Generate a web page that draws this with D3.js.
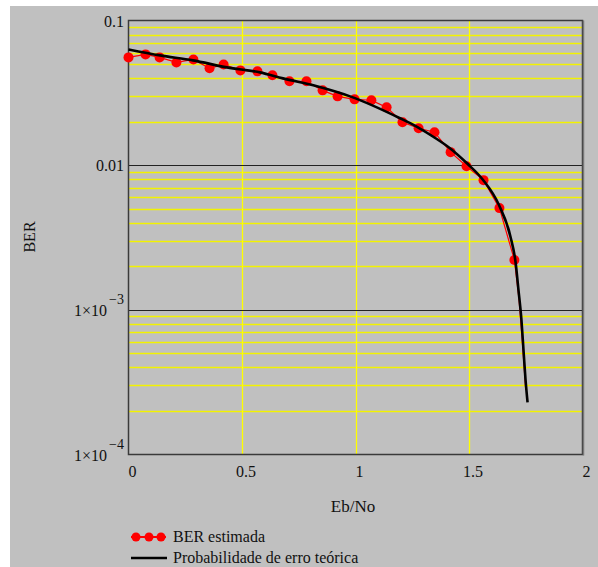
<!DOCTYPE html>
<html>
<head>
<meta charset="utf-8">
<script src="https://cdn.jsdelivr.net/npm/d3@7"></script>
<style>
  body { margin: 0; background: #fff; }
  svg { display: block; font-family: "Liberation Serif", "Times New Roman", serif; }
</style>
</head>
<body>
<div id="chart"></div>
<script>
// estimated BER points (Eb/No, BER)
var berX = [0, 0.075, 0.137, 0.211, 0.286, 0.357, 0.419, 0.493, 0.568, 0.634, 0.709, 0.784,
  0.855, 0.921, 0.996, 1.07, 1.137, 1.207, 1.278, 1.348, 1.419, 1.489, 1.564, 1.634, 1.70];
var berY = [0.0556, 0.0583, 0.0556, 0.0513, 0.0538, 0.0467, 0.0497, 0.0452, 0.0445, 0.0418, 0.038, 0.038,
  0.0329, 0.0299, 0.0285, 0.0281, 0.0251, 0.0198, 0.018, 0.0169, 0.0123, 0.00984, 0.00788, 0.00505, 0.00221];
// red connecting line continues past the last visible dot
var tailX = [1.72, 1.735, 1.75];
var tailY = [0.0012, 0.0006, 0.00028];

// theoretical error probability curve
var theoX = [0, 0.139, 0.284, 0.434, 0.579, 0.681, 0.830, 0.976, 1.196, 1.271, 1.346, 1.416, 1.491,
  1.562, 1.632, 1.683, 1.705, 1.718, 1.731, 1.740, 1.749, 1.758];
var theoY = [0.0631, 0.0574, 0.053, 0.0474, 0.0438, 0.0398, 0.0351, 0.0299, 0.0211, 0.0184, 0.0156, 0.0131, 0.0103,
  0.0079, 0.0053, 0.00319, 0.00214, 0.00137, 0.000853, 0.00053, 0.000329, 0.000229];

var xTicks = [0, 0.5, 1, 1.5, 2];
var yMajor = [0.1, 0.01, 0.001, 0.0001];
var yLabels = [["0.1"], ["0.01"], ["1×10", "−3"], ["1×10", "−4"]];
var legendNames = ["BER estimada", "Probabilidade de erro teórica"];

var W = 598, H = 567;
var svg = d3.select("#chart").append("svg").attr("width", W).attr("height", H);

// grey backdrop (white strip on the top/left edges)
svg.append("rect").attr("x", 10).attr("y", 6).attr("width", W - 10).attr("height", H - 6).attr("fill", "#c0c0c0");

var x = d3.scaleLinear().domain([0, 2]).range([128.5, 582.5]);
var y = d3.scaleLog().domain([0.0001, 0.1]).range([454.5, 20.5]);

// minor horizontal grid
var minor = [];
yMajor.slice(1).forEach(function (d) {
  for (var k = 2; k <= 9; k++) minor.push(d * k);
});
svg.append("g").selectAll("line").data(minor).join("line")
  .attr("x1", x(0)).attr("x2", x(2))
  .attr("y1", function (d) { return Math.round(y(d)) + 0.5; })
  .attr("y2", function (d) { return Math.round(y(d)) + 0.5; })
  .attr("stroke", "#f2f200").attr("stroke-width", 1.3);

// vertical grid
svg.append("g").selectAll("line").data(xTicks.slice(1, -1)).join("line")
  .attr("x1", function (d) { return Math.round(x(d)) + 0.5; })
  .attr("x2", function (d) { return Math.round(x(d)) + 0.5; })
  .attr("y1", y(0.1)).attr("y2", y(0.0001))
  .attr("stroke", "#ffff00").attr("stroke-width", 1.3);

// major horizontal grid
svg.append("g").selectAll("line").data(yMajor.slice(1, -1)).join("line")
  .attr("x1", x(0)).attr("x2", x(2))
  .attr("y1", function (d) { return Math.round(y(d)) + 0.5; })
  .attr("y2", function (d) { return Math.round(y(d)) + 0.5; })
  .attr("stroke", "#222").attr("stroke-width", 1.2);

// frame
svg.append("rect")
  .attr("x", x(0)).attr("y", y(0.1))
  .attr("width", x(2) - x(0)).attr("height", y(0.0001) - y(0.1))
  .attr("fill", "none").attr("stroke", "#3a3a3a").attr("stroke-width", 1.5);
svg.append("line")
  .attr("x1", x(2) + 1).attr("x2", x(2) + 1).attr("y1", y(0.1)).attr("y2", y(0.0001) + 1)
  .attr("stroke", "#777").attr("stroke-width", 1.5);

// x tick labels
svg.append("g").selectAll("text").data(xTicks).join("text")
  .attr("x", function (d) { return x(d) + 4; })
  .attr("y", 477)
  .attr("text-anchor", "middle")
  .attr("font-size", 16).attr("fill", "#111")
  .text(function (d) { return d; });

// y tick labels
var yl = svg.append("g").selectAll("text").data(yMajor).join("text")
  .attr("x", 124)
  .attr("y", function (d) { return y(d) + 6; })
  .attr("text-anchor", "end")
  .attr("font-size", 16).attr("fill", "#111");
yl.each(function (d, i) {
  var t = d3.select(this);
  t.append("tspan").text(yLabels[i][0]);
  if (yLabels[i][1]) {
    t.append("tspan").attr("dy", -12).attr("dx", 2).attr("font-size", 14).text(yLabels[i][1]);
  }
});

// axis titles
svg.append("text")
  .attr("transform", "translate(35,237) rotate(-90)")
  .attr("text-anchor", "middle").attr("font-size", 16).attr("fill", "#111")
  .text("BER");
svg.append("text")
  .attr("x", 353).attr("y", 512)
  .attr("text-anchor", "middle").attr("font-size", 17).attr("fill", "#111")
  .text("Eb/No");

// estimated BER
var berData = berX.map(function (d, i) { return [d, berY[i]]; });
var tailData = tailX.map(function (d, i) { return [d, tailY[i]]; });
var line = d3.line()
  .x(function (d) { return x(d[0]); })
  .y(function (d) { return y(d[1]); });

svg.append("path").datum(berData.concat(tailData))
  .attr("d", line).attr("fill", "none").attr("stroke", "#ff0000").attr("stroke-width", 1.2);
svg.append("g").selectAll("circle").data(berData).join("circle")
  .attr("cx", function (d) { return x(d[0]); })
  .attr("cy", function (d) { return y(d[1]); })
  .attr("r", 5).attr("fill", "#ff0000");

// theoretical curve
var theoData = theoX.map(function (d, i) { return [d, theoY[i]]; });
svg.append("path").datum(theoData)
  .attr("d", line.curve(d3.curveMonotoneX))
  .attr("fill", "none").attr("stroke", "#000").attr("stroke-width", 2.6);

// legend
var leg = svg.append("g");
leg.append("line").attr("x1", 131).attr("x2", 166).attr("y1", 537).attr("y2", 537)
  .attr("stroke", "#ff0000").attr("stroke-width", 2);
leg.selectAll("circle").data([136, 149, 161]).join("circle")
  .attr("cx", function (d) { return d; }).attr("cy", 537).attr("r", 4.5).attr("fill", "#ff0000");
leg.append("line").attr("x1", 131).attr("x2", 167).attr("y1", 558).attr("y2", 558)
  .attr("stroke", "#000").attr("stroke-width", 2.6);
leg.selectAll("text").data(legendNames).join("text")
  .attr("x", 173)
  .attr("y", function (d, i) { return 542 + i * 21; })
  .attr("font-size", 16).attr("fill", "#111")
  .text(function (d) { return d; });
</script>
</body>
</html>
